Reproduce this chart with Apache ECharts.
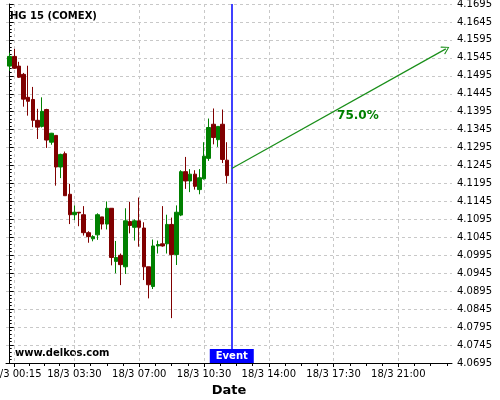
<!DOCTYPE html>
<html>
<head>
<meta charset="utf-8">
<script src="https://cdn.jsdelivr.net/npm/echarts@6/dist/echarts.min.js"></script>
<style>
  html, body { margin: 0; padding: 0; background: #fff; }
  #chart { width: 500px; height: 400px; }
</style>
</head>
<body>
<div id="chart"></div>
<script>
// 15 min candles, 18/3
const candleTimes = ['00:00','00:15','00:30','00:45','01:00','01:15','01:30','01:45',
  '02:00','02:15','02:30','02:45','03:00','03:15','03:30','03:45',
  '04:00','04:15','04:30','04:45','05:00','05:15','05:30','05:45',
  '06:00','06:15','06:30','06:45','07:00','07:15','07:30','07:45',
  '08:00','08:15','08:30','08:45','09:00','09:15','09:30','09:45',
  '10:00','10:15','10:30','10:45','11:00','11:15','11:30','11:45']
const opens = [4.1522,4.1549,4.1522,4.1499,4.1435,4.1429,4.1371,4.1354,
  4.1401,4.1310,4.1329,4.1241,4.1278,4.1165,4.1108,4.1115,
  4.1108,4.1058,4.1041,4.1052,4.1102,4.1082,4.1126,4.0978,
  4.0995,4.0963,4.1089,4.1073,4.1091,4.1071,4.0963,4.0908,
  4.1021,4.1027,4.1027,4.1081,4.0997,4.1107,4.1228,4.1202,
  4.1221,4.1178,4.1208,4.1265,4.1360,4.1317,4.1360,4.1260]
const closes = [4.1549,4.1516,4.1491,4.1430,4.1424,4.1371,4.1352,4.1396,
  4.1316,4.1335,4.1241,4.1276,4.1161,4.1108,4.1115,4.1113,
  4.1058,4.1047,4.1047,4.1108,4.1082,4.1126,4.0989,4.0989,
  4.0969,4.1091,4.1078,4.1091,4.1073,4.0963,4.0913,4.1021,
  4.1025,4.1021,4.1081,4.0997,4.1115,4.1228,4.1202,4.1221,
  4.1187,4.1211,4.1271,4.1351,4.1323,4.1354,4.1262,4.1217]
const lows = [4.1509,4.1514,4.1489,4.1409,4.1384,4.1352,4.1319,4.1351,
  4.1294,4.1303,4.1189,4.1210,4.1161,4.1082,4.1093,4.1076,
  4.1050,4.1030,4.1034,4.1038,4.1067,4.1067,4.0967,4.0945,
  4.0912,4.0943,4.1056,4.1036,4.1019,4.0926,4.0875,4.0901,
  4.1000,4.1019,4.1000,4.0820,4.0968,4.1104,4.1180,4.1171,
  4.1178,4.1165,4.1206,4.1258,4.1304,4.1297,4.1252,4.1195]
const highs = [4.1559,4.1570,4.1534,4.1503,4.1523,4.1464,4.1403,4.1435,
  4.1403,4.1336,4.1329,4.1278,4.1284,4.1194,4.1134,4.1115,
  4.1132,4.1062,4.1051,4.1112,4.1102,4.1145,4.1126,4.1035,
  4.1000,4.1126,4.1144,4.1095,4.1156,4.1087,4.0963,4.1039,
  4.1036,4.1132,4.1108,4.1100,4.1134,4.1232,4.1269,4.1235,
  4.1232,4.1235,4.1310,4.1376,4.1404,4.1354,4.1401,4.1310]

// axis ticks
const xTickTimes = ['00:15','03:30','07:00','10:30','14:00','17:30','21:00']
const xTickLabels = ['18/3 00:15','18/3 03:30','18/3 07:00','18/3 10:30','18/3 14:00','18/3 17:30','18/3 21:00']
const yTickLabels = ['4.0695','4.0745','4.0795','4.0845','4.0895','4.0945','4.0995','4.1045','4.1095','4.1145',
  '4.1195','4.1245','4.1295','4.1345','4.1395','4.1445','4.1495','4.1545','4.1595','4.1645','4.1695']

// event + forecast arrow
const eventTime = '12:00'
const arrowTimes = ['12:00','23:34']
const arrowValues = [4.1237, 4.1570]
const arrowLabel = '75.0%'
const arrowLabelAt = ['18:49', 4.1383]

const toMin = (t) => {
  const [h, m] = t.split(':').map(Number)
  return h * 60 + m
}
const xMin = -12
const xMax = 1434
const yMin = 4.0695
const yMax = 4.1695

const xTicks = xTickTimes.map(toMin)
// 4 small ticks per major step, same step carried past the last label
const xMinorTicks = []
for (let i = 0; i < xTicks.length - 1; i++) {
  const step = (xTicks[i + 1] - xTicks[i]) / 4
  for (let k = 1; k < 4; k++) xMinorTicks.push(xTicks[i] + step * k)
}
for (let v = xTicks[xTicks.length - 1] + 52.5; v < xMax; v += 52.5) xMinorTicks.push(v)

const candleData = candleTimes.map((t, i) => [toMin(t), opens[i], closes[i], lows[i], highs[i]])

const font = 'DejaVu Sans'
const gridLine = { show: true, lineStyle: { color: '#c8c8c8', type: [3, 3], width: 1 } }

const chart = echarts.init(document.getElementById('chart'))
const option = {
  animation: false,
  backgroundColor: '#fff',
  title: {
    text: 'HG 15 (COMEX)',
    left: 10,
    top: 11,
    padding: 0,
    textStyle: { fontFamily: font, fontSize: 10, fontWeight: 'bold', color: '#000' },
  },
  graphic: [
    {
      type: 'text',
      left: 15,
      top: 348,
      style: { text: 'www.delkos.com', font: 'bold 10px "DejaVu Sans"', fill: '#000' },
    },
  ],
  grid: { left: 6, right: 48, top: 4, bottom: 37, containLabel: false, outerBoundsMode: 'none' },
  xAxis: [
    {
      type: 'value',
      min: xMin,
      max: xMax,
      name: 'Date',
      nameLocation: 'middle',
      nameGap: 21,
      nameTextStyle: { fontFamily: font, fontSize: 13, fontWeight: 'bold', color: '#000' },
      axisLine: { show: true, onZero: false, lineStyle: { color: '#000', width: 1 } },
      axisTick: { show: true, length: 4, customValues: xTicks, lineStyle: { color: '#000' } },
      axisLabel: {
        customValues: xTicks,
        margin: 6,
        fontFamily: font,
        fontSize: 10,
        color: '#000',
        formatter: (v) => xTickLabels[xTicks.indexOf(v)] || '',
      },
      splitLine: gridLine,
    },
    {
      type: 'value',
      min: xMin,
      max: xMax,
      position: 'bottom',
      axisLine: { show: false },
      axisTick: { show: true, length: 3, customValues: xMinorTicks, lineStyle: { color: '#000' } },
      axisLabel: { show: false },
      splitLine: { show: false },
    },
  ],
  yAxis: {
    type: 'value',
    position: 'right',
    min: yMin,
    max: yMax,
    interval: 0.005,
    axisLine: { show: true, lineStyle: { color: '#000', width: 1 } },
    axisTick: { show: true, length: 4, customValues: yTickLabels.map(Number), lineStyle: { color: '#000' } },
    minorTick: { show: true, splitNumber: 5, length: 2, lineStyle: { color: '#000' } },
    axisLabel: {
      customValues: yTickLabels.map(Number),
      margin: 5,
      fontFamily: font,
      fontSize: 10,
      color: '#000',
      formatter: (v) => v.toFixed(4),
    },
    splitLine: gridLine,
  },
  series: [
    {
      type: 'candlestick',
      data: candleData,
      encode: { x: 0, y: [1, 2, 3, 4] },
      barWidth: 4,
      itemStyle: {
        color: '#008000',
        color0: '#800000',
        borderColor: '#008000',
        borderColor0: '#800000',
        borderWidth: 1,
      },
      markLine: {
        silent: true,
        symbol: ['none', 'none'],
        label: { show: false },
        lineStyle: { color: '#0000ff', width: 1.5, type: 'solid' },
        data: [{ xAxis: toMin(eventTime) }],
      },
      markPoint: {
        silent: true,
        data: [
          {
            coord: [toMin(eventTime), yMin],
            symbol: 'rect',
            symbolSize: [44, 14],
            symbolOffset: [0, -7],
            itemStyle: { color: '#0000ff' },
            label: {
              show: true,
              formatter: 'Event',
              color: '#fff',
              fontFamily: font,
              fontSize: 10,
              fontWeight: 'bold',
            },
          },
          {
            coord: [toMin(arrowLabelAt[0]), arrowLabelAt[1]],
            symbol: 'circle',
            symbolSize: 1,
            itemStyle: { color: 'rgba(0,0,0,0)' },
            label: {
              show: true,
              position: 'inside',
              formatter: arrowLabel,
              color: '#008000',
              fontFamily: font,
              fontSize: 12,
              fontWeight: 'bold',
            },
          },
        ],
      },
    },
    {
      type: 'line',
      data: [],
      markLine: {
        silent: true,
        label: { show: false },
        lineStyle: { color: '#1a8f1a', width: 1.2, type: 'solid' },
        data: [
          [
            { coord: [toMin(arrowTimes[0]), arrowValues[0]], symbol: 'none' },
            {
              coord: [toMin(arrowTimes[1]), arrowValues[1]],
              symbol: 'path://M5,0 L10,9 L9,10 L5,2.2 L1,10 L0,9 Z',
              symbolSize: [9, 8],
            },
          ],
        ],
      },
    },
  ],
}
chart.setOption(option)
</script>
</body>
</html>
